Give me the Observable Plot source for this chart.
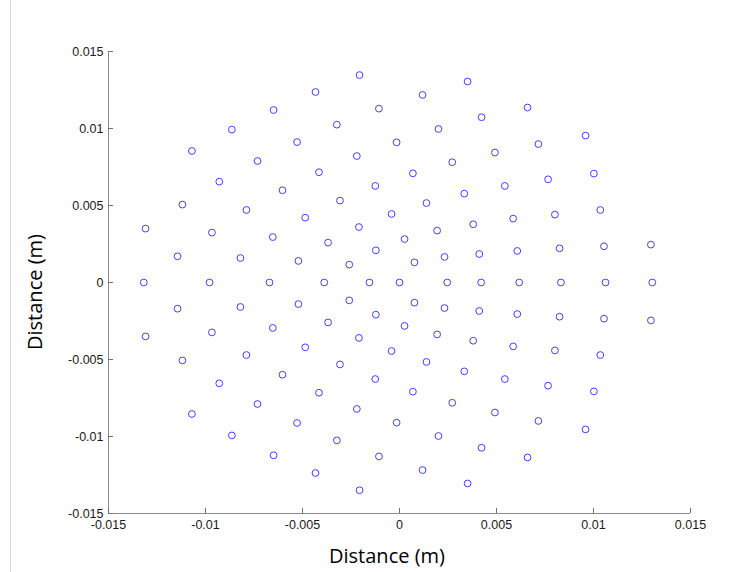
<!DOCTYPE html>
<html>
<head>
<meta charset="utf-8">
<script src="https://cdn.jsdelivr.net/npm/d3@7"></script>
<script src="https://cdn.jsdelivr.net/npm/@observablehq/plot@0.6"></script>
<style>
  html, body { margin: 0; padding: 0; background: #fff; }
  #wrap { position: relative; width: 755px; height: 572px; overflow: hidden; }
  #edge { position: absolute; left: 10px; top: 0; width: 1px; height: 572px; background: #d4d4d4; }
  .lbl { position: absolute; width: 220px; height: 20px; line-height: 20px; text-align: center;
         font-family: 'Open Sans', 'Noto Sans', sans-serif; font-size: 20px; color: #000; white-space: nowrap; }
  #xlabel { left: 277px; top: 546px; }
  #ylabel { left: -75px; top: 282px; transform: rotate(-90deg); }
</style>
</head>
<body>
<div id="wrap"><div id="edge"></div></div>
<script>
// Points above the x axis (m)
const upperX = [-0.00649,-0.00864,-0.00528,-0.01070,-0.00732,-0.00929,-0.00603,-0.01119,-0.00789,-0.00486,
  -0.01309,-0.00967,-0.00653,-0.01144,-0.00820,-0.00521,
  -0.00206,-0.00433,0.00351,0.00119,-0.00106,0.00423,-0.00323,0.00201,-0.00015,0.00492,
  -0.00220,0.00272,-0.00415,0.00069,-0.00125,0.00334,-0.00307,0.00139,-0.00041,0.00380,
  -0.00209,0.00194,-0.00368,0.00026,-0.00122,0.00232,0.00411,-0.00259,0.00077,
  0.00660,0.00959,0.00716,0.01002,0.00766,0.00543,0.01035,0.00801,0.00586,0.01054,0.00825,0.00607,0.01296];
const upperY = [0.01120,0.00993,0.00912,0.00854,0.00789,0.00655,0.00599,0.00506,0.00471,0.00421,
  0.00350,0.00324,0.00295,0.00170,0.00159,0.00140,
  0.01347,0.01237,0.01305,0.01218,0.01129,0.01073,0.01025,0.00997,0.00910,0.00844,
  0.00821,0.00781,0.00716,0.00709,0.00627,0.00577,0.00532,0.00516,0.00445,0.00378,
  0.00360,0.00337,0.00259,0.00282,0.00209,0.00166,0.00185,0.00116,0.00131,
  0.01136,0.00954,0.00899,0.00707,0.00670,0.00627,0.00471,0.00441,0.00415,0.00235,0.00222,0.00205,0.00246];
// Points on the x axis (m)
const axisX = [-0.01318,-0.00979,-0.00670,-0.00388,-0.00155,0.0,0.00246,0.00421,0.00617,0.00832,0.01062,0.01303];
const axisY = [0,0,0,0,0,0,0,0,0,0,0,0];
// Points below the x axis (m)
const lowerX = [-0.00649,-0.00864,-0.00528,-0.01070,-0.00732,-0.00929,-0.00603,-0.01119,-0.00789,-0.00486,
  -0.01309,-0.00967,-0.00653,-0.01144,-0.00820,-0.00521,
  -0.00206,-0.00433,0.00351,0.00119,-0.00106,0.00423,-0.00323,0.00201,-0.00015,0.00492,
  -0.00220,0.00272,-0.00415,0.00069,-0.00125,0.00334,-0.00307,0.00139,-0.00041,0.00380,
  -0.00209,0.00194,-0.00368,0.00026,-0.00122,0.00232,0.00411,-0.00259,0.00077,
  0.00660,0.00959,0.00716,0.01002,0.00766,0.00543,0.01035,0.00801,0.00586,0.01054,0.00825,0.00607,0.01296];
const lowerY = [-0.01122,-0.00993,-0.00912,-0.00854,-0.00789,-0.00655,-0.00599,-0.00506,-0.00471,-0.00421,
  -0.00350,-0.00324,-0.00295,-0.00170,-0.00159,-0.00140,
  -0.01349,-0.01237,-0.01305,-0.01218,-0.01129,-0.01073,-0.01025,-0.00997,-0.00910,-0.00844,
  -0.00821,-0.00781,-0.00716,-0.00709,-0.00627,-0.00577,-0.00532,-0.00516,-0.00445,-0.00378,
  -0.00360,-0.00337,-0.00259,-0.00282,-0.00209,-0.00166,-0.00185,-0.00116,-0.00131,
  -0.01136,-0.00954,-0.00899,-0.00707,-0.00670,-0.00627,-0.00471,-0.00441,-0.00415,-0.00235,-0.00222,-0.00205,-0.00246];

const domain = [-0.015, 0.015];
const tickValues = [-0.015, -0.01, -0.005, 0, 0.005, 0.01, 0.015];
const tickLabels = ["-0.015", "-0.01", "-0.005", "0", "0.005", "0.01", "0.015"];
const xLabel = "Distance (m)";
const yLabel = "Distance (m)";

const pts = [];
upperX.forEach((x, i) => pts.push({x, y: upperY[i]}));
axisX.forEach((x, i) => pts.push({x, y: axisY[i]}));
lowerX.forEach((x, i) => pts.push({x, y: lowerY[i]}));

const fmt = d => tickLabels[tickValues.findIndex(t => Math.abs(t - d) < 1e-9)];
const tickFont = "'Liberation Sans', Arial, sans-serif";

const chart = Plot.plot({
  width: 755,
  height: 572,
  marginLeft: 108,
  marginRight: 65,
  marginTop: 51,
  marginBottom: 59,
  style: {background: "transparent", overflow: "visible"},
  x: {domain, label: null},
  y: {domain, label: null},
  marks: [
    Plot.ruleX([domain[0]], {stroke: "#8a8a8a", strokeWidth: 1}),
    Plot.ruleY([domain[0]], {stroke: "#8a8a8a", strokeWidth: 1}),
    Plot.axisX({ticks: tickValues, tickFormat: fmt, tickSize: -5, tickPadding: 12, stroke: "#707070",
      fill: "#1a1a1a", fontSize: 12.5, fontFamily: tickFont, label: null}),
    Plot.axisY({ticks: tickValues, tickFormat: fmt, tickSize: -5, tickPadding: 10, stroke: "#707070",
      fill: "#1a1a1a", fontSize: 12.5, fontFamily: tickFont, label: null}),
    Plot.dot(pts, {x: "x", y: "y", r: 3.4, stroke: "#4040ff", strokeWidth: 1, fill: "none"})
  ]
});
chart.style.position = "absolute";
chart.style.left = "0px";
chart.style.top = "0px";
const wrap = document.getElementById("wrap");
wrap.appendChild(chart);

const xl = document.createElement("div");
xl.className = "lbl"; xl.id = "xlabel"; xl.textContent = xLabel;
wrap.appendChild(xl);
const yl = document.createElement("div");
yl.className = "lbl"; yl.id = "ylabel"; yl.textContent = yLabel;
wrap.appendChild(yl);
</script>
</body>
</html>
